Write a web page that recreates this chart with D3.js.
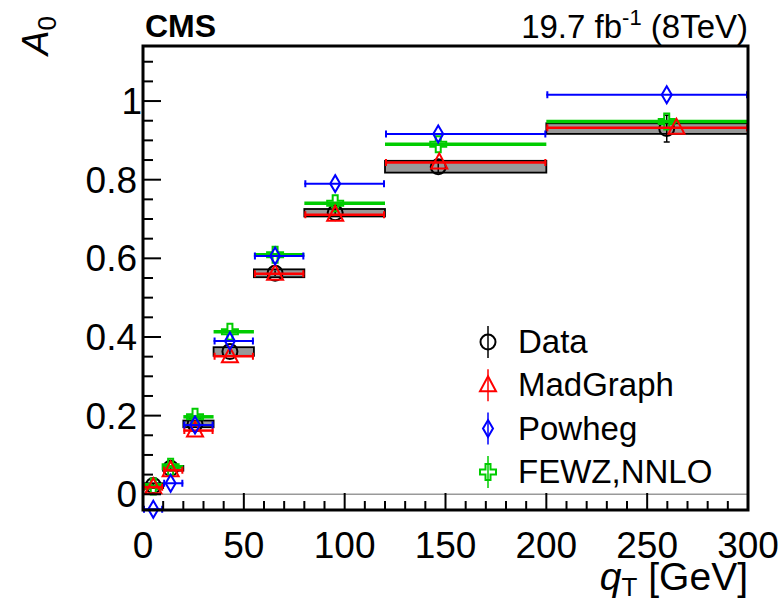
<!DOCTYPE html>
<html>
<head>
<meta charset="utf-8">
<script src="https://cdn.jsdelivr.net/npm/d3@7"></script>
<style>
  body { margin: 0; background: #fff; }
  svg { display: block; font-family: "Liberation Sans", Arial, sans-serif; }
</style>
</head>
<body>
<div id="chart"></div>
<script>
// Bordes de los bins en qT [GeV]
const binEdges = [0, 10, 20, 35, 55, 80, 120, 200, 300];

// Datos medidos: posición, valor, error estadístico y sistemático
const dataX = [5.1, 13.7, 25.8, 43.1, 65.5, 95.3, 146.4, 259.7];
const dataA0 = [0.022, 0.066, 0.179, 0.363, 0.562, 0.716, 0.833, 0.930];
const dataStat = [0.004, 0.004, 0.005, 0.006, 0.007, 0.010, 0.015, 0.034];
const dataSyst = [0.006, 0.006, 0.0085, 0.011, 0.010, 0.0095, 0.015, 0.0135];

// Predicciones
const madgraphX = [5.1, 13.7, 25.8, 43.1, 65.5, 95.3, 146.9, 264.5];
const madgraphA0 = [0.018, 0.061, 0.162, 0.351, 0.561, 0.711, 0.844, 0.932];
const powhegX = [5.1, 13.7, 25.8, 43.1, 65.5, 95.3, 146.4, 259.7];
const powhegA0 = [-0.038, 0.028, 0.176, 0.390, 0.606, 0.790, 0.916, 1.016];
const fewzX = [5.1, 13.7, 25.8, 43.1, 65.5, 95.3, 146.4, 259.7];
const fewzA0 = [0.020, 0.070, 0.197, 0.413, 0.609, 0.740, 0.890, 0.948];

// Ticks
const xMajorTicks = [0, 50, 100, 150, 200, 250, 300];
const yMajorTicks = [0, 0.2, 0.4, 0.6, 0.8, 1];
const yTickLabels = ["0", "0.2", "0.4", "0.6", "0.8", "1"];

const legendLabels = ["Data", "MadGraph", "Powheg", "FEWZ,NNLO"];

const width = 784, height = 605;
const frame = { left: 143, right: 748, top: 46, bottom: 510 };

const x = d3.scaleLinear().domain([0, 300]).range([frame.left, frame.right]);
const y = d3.scaleLinear().domain([-0.04, 1.14]).range([frame.bottom, frame.top]);

const svg = d3.select("#chart").append("svg")
    .attr("width", width)
    .attr("height", height);

// Formas de los marcadores (estilo ROOT)
const markers = {
    circle: "M7.5,0A7.5,7.5 0 1,1 -7.5,0A7.5,7.5 0 1,1 7.5,0Z",
    triangle: "M0,-9L8,6L-8,6Z",
    diamond: "M0,-8.5L5,0L0,8.5L-5,0Z",
    cross: "M-2.5,-8H2.5V-2.5H8V2.5H2.5V8H-2.5V2.5H-8V-2.5H-2.5Z"
};

const bins = d3.range(binEdges.length - 1).map(i => ({ lo: binEdges[i], hi: binEdges[i + 1], i }));

// Línea en cero
svg.append("line")
    .attr("x1", x(0)).attr("x2", x(300))
    .attr("y1", y(0)).attr("y2", y(0))
    .attr("stroke", "#999").attr("stroke-width", 1.5);

// Bandas sistemáticas de los datos
svg.append("g").selectAll("rect")
    .data(bins)
    .join("rect")
    .attr("x", d => x(d.lo))
    .attr("width", d => x(d.hi) - x(d.lo))
    .attr("y", d => y(dataA0[d.i] + dataSyst[d.i]))
    .attr("height", d => y(dataA0[d.i] - dataSyst[d.i]) - y(dataA0[d.i] + dataSyst[d.i]))
    .attr("fill", "#999")
    .attr("stroke", "#000")
    .attr("stroke-width", 1.8);

// Datos: círculo abierto con barra de error vertical
const dataG = svg.append("g");
dataG.selectAll("line")
    .data(bins)
    .join("line")
    .attr("x1", d => x(dataX[d.i])).attr("x2", d => x(dataX[d.i]))
    .attr("y1", d => y(dataA0[d.i] + dataStat[d.i]))
    .attr("y2", d => y(dataA0[d.i] - dataStat[d.i]))
    .attr("stroke", "#000").attr("stroke-width", 1.5);
dataG.selectAll("path.cap")
    .data(bins.filter(d => y(dataA0[d.i] - dataStat[d.i]) - y(dataA0[d.i] + dataStat[d.i]) > 16))
    .join("path")
    .attr("d", d => {
        const cx = x(dataX[d.i]);
        const t = y(dataA0[d.i] + dataStat[d.i]), b = y(dataA0[d.i] - dataStat[d.i]);
        return `M${cx - 3},${t}H${cx + 3}M${cx - 3},${b}H${cx + 3}`;
    })
    .attr("stroke", "#000").attr("stroke-width", 1.5);
dataG.selectAll("path.m")
    .data(bins)
    .join("path")
    .attr("class", "m")
    .attr("transform", d => `translate(${x(dataX[d.i])},${y(dataA0[d.i])})`)
    .attr("d", markers.circle)
    .attr("fill", "none").attr("stroke", "#000").attr("stroke-width", 2);

// Predicción con barra horizontal sobre el bin
function drawPrediction(xs, values, color, marker, lineWidth, caps) {
    const g = svg.append("g");
    g.selectAll("line")
        .data(bins)
        .join("line")
        .attr("x1", d => x(d.lo)).attr("x2", d => x(d.hi))
        .attr("y1", d => y(values[d.i])).attr("y2", d => y(values[d.i]))
        .attr("stroke", color).attr("stroke-width", lineWidth);
    if (caps) {
        g.selectAll("path.cap")
            .data(bins)
            .join("path")
            .attr("class", "cap")
            .attr("d", d => {
                const yy = y(values[d.i]);
                return `M${x(d.lo) + 1},${yy - 3.5}V${yy + 3.5}M${x(d.hi) - 1},${yy - 3.5}V${yy + 3.5}`;
            })
            .attr("stroke", color).attr("stroke-width", 2);
    }
    g.selectAll("path.m")
        .data(bins)
        .join("path")
        .attr("class", "m")
        .attr("transform", d => `translate(${x(xs[d.i])},${y(values[d.i])})`)
        .attr("d", marker)
        .attr("fill", "none").attr("stroke", color).attr("stroke-width", 2);
}

drawPrediction(fewzX, fewzA0, "#00cc00", markers.cross, 3.5, false);
drawPrediction(madgraphX, madgraphA0, "#ff0000", markers.triangle, 2.5, true);
drawPrediction(powhegX, powhegA0, "#0000ff", markers.diamond, 2, true);

// Marco
svg.append("rect")
    .attr("x", frame.left).attr("y", frame.top)
    .attr("width", frame.right - frame.left)
    .attr("height", frame.bottom - frame.top)
    .attr("fill", "none").attr("stroke", "#000").attr("stroke-width", 3);

// Ticks eje x
const xMinor = d3.range(0, 301, 10).filter(v => v % 50 !== 0);
svg.append("g").selectAll("line")
    .data(xMajorTicks.map(v => ({ v, len: 17 })).concat(xMinor.map(v => ({ v, len: 9 }))))
    .join("line")
    .attr("x1", d => x(d.v)).attr("x2", d => x(d.v))
    .attr("y1", frame.bottom).attr("y2", d => frame.bottom - d.len)
    .attr("stroke", "#000").attr("stroke-width", 2);

svg.append("g").selectAll("text")
    .data(xMajorTicks)
    .join("text")
    .attr("x", d => x(d))
    .attr("y", 558)
    .attr("text-anchor", "middle")
    .attr("font-size", 37)
    .text(d => d);

// Ticks eje y
const yMinor = d3.range(0, 23).map(k => k * 0.05).filter(v => Math.abs(v * 5 - Math.round(v * 5)) > 1e-6);
svg.append("g").selectAll("line")
    .data(yMajorTicks.map(v => ({ v, len: 18 })).concat(yMinor.map(v => ({ v, len: 10 }))))
    .join("line")
    .attr("x1", frame.left).attr("x2", d => frame.left + d.len)
    .attr("y1", d => y(d.v)).attr("y2", d => y(d.v))
    .attr("stroke", "#000").attr("stroke-width", 2);

svg.append("g").selectAll("text")
    .data(yMajorTicks)
    .join("text")
    .attr("x", (d, i) => yTickLabels[i] === "1" ? 142 : 137)
    .attr("y", d => y(d) + 13)
    .attr("text-anchor", "end")
    .attr("font-size", 37)
    .text((d, i) => yTickLabels[i]);

// Títulos de ejes
const xTitle = svg.append("text")
    .attr("x", 748).attr("y", 590)
    .attr("text-anchor", "end")
    .attr("font-size", 39);
xTitle.append("tspan").attr("font-style", "italic").text("q");
xTitle.append("tspan").attr("font-size", 26).attr("dy", 6).text("T");
xTitle.append("tspan").attr("dy", -6).text(" [GeV]");

const yTitle = svg.append("text")
    .attr("transform", "translate(48,16) rotate(-90)")
    .attr("text-anchor", "end")
    .attr("font-size", 37);
yTitle.append("tspan").attr("font-style", "italic").text("A");
yTitle.append("tspan").attr("font-size", 26).attr("dy", 8).text("0");

// Cabecera
svg.append("text")
    .attr("x", 145).attr("y", 37)
    .attr("font-size", 32).attr("font-weight", "bold")
    .text("CMS");

const lumi = svg.append("text")
    .attr("x", 748).attr("y", 38)
    .attr("text-anchor", "end")
    .attr("font-size", 33);
lumi.append("tspan").text("19.7 fb");
lumi.append("tspan").attr("font-size", 22).attr("dy", -13).text("-1");
lumi.append("tspan").attr("dy", 13).text(" (8TeV)");

// Leyenda
const legendColors = ["#000", "#ff0000", "#0000ff", "#00cc00"];
const legendMarkers = [markers.circle, markers.triangle, markers.diamond, markers.cross];
const legend = svg.append("g").selectAll("g")
    .data(legendLabels)
    .join("g")
    .attr("transform", (d, i) => `translate(488,${342 + i * 43.3})`);
legend.append("path")
    .attr("d", (d, i) => legendMarkers[i])
    .attr("fill", "#fff")
    .attr("stroke", (d, i) => legendColors[i]).attr("stroke-width", 2);
legend.append("line")
    .attr("y1", -16).attr("y2", 16)
    .attr("stroke", (d, i) => legendColors[i]).attr("stroke-width", 1.5);
legend.append("text")
    .attr("x", 30).attr("y", 11)
    .attr("font-size", 33)
    .text(d => d);
</script>
</body>
</html>
